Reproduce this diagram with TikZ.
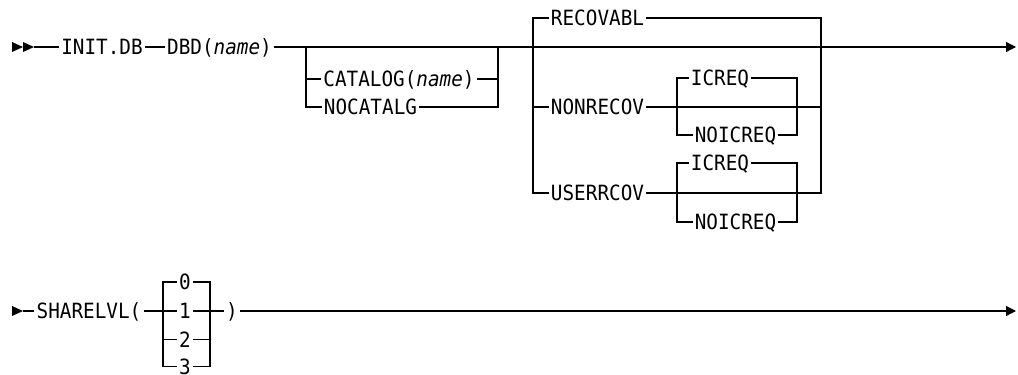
\documentclass[tikz,border=0pt]{standalone}
\usepackage{fontspec}
\newfontfamily\railfont[FakeStretch=0.92]{DejaVu Sans Mono}
\usetikzlibrary{arrows.meta,positioning}
\tikzset{keyword/.style={font={\railfont\fontsize{21}{21}\selectfont}, inner xsep=2pt, inner ysep=0pt, text height=15pt, text depth=0pt}}
\tikzset{rail/.style={line width=1.2pt}}
\tikzset{railarrow/.style={rail, -{Triangle[length=10pt,width=10pt]}}}

\begin{document}
\begin{tikzpicture}[x=1pt, y=-1pt]
  \useasboundingbox (0,0) rectangle (1018,375);

  % first line
  \fill (12,42) -- (23,47) -- (12,52) -- cycle;
  \fill (23,42) -- (34,47) -- (23,52) -- cycle;
  \coordinate (start-1) at (34,47);
  \coordinate (end-1) at (1016,47);

  \node[keyword] (init) at (102,47) {INIT.DB};
  \node[keyword] (dbd) at (219.5,47) {DBD(\textit{name})};

  \node[keyword] (catalog) at (399,79) {CATALOG(\textit{name})};
  \node[keyword] (nocatalg) at (370.5,107) {NOCATALG};

  \node[keyword] (recovabl) at (597.5,18) {RECOVABL};
  \node[keyword] (nonrecov) at (597.5,107) {NONRECOV};
  \node[keyword] (userrcov) at (597.5,193) {USERRCOV};

  \node[keyword] (icreq-1) at (720,78) {ICREQ};
  \node[keyword] (noicreq-1) at (735.5,135) {NOICREQ};
  \node[keyword] (icreq-2) at (720,163) {ICREQ};
  \node[keyword] (noicreq-2) at (735.5,222) {NOICREQ};

  \coordinate (fork-1) at (306,47);
  \coordinate (join-1) at (498,47);
  \coordinate (fork-2) at (533,47);
  \coordinate (join-2) at (821,47);
  \coordinate (fork-3) at (677,107);
  \coordinate (join-3) at (797,107);
  \coordinate (fork-4) at (677,193);
  \coordinate (join-4) at (797,193);

  \draw[rail] (start-1) -- (init);
  \draw[rail] (init) -- (dbd);
  \draw[railarrow] (dbd) -- (end-1);

  \draw[rail] (fork-1) |- (catalog);
  \draw[rail] (fork-1) |- (nocatalg);
  \draw[rail] (catalog) -| (join-1);
  \draw[rail] (nocatalg) -| (join-1);

  \draw[rail] (fork-2) |- (recovabl);
  \draw[rail] (fork-2) |- (nonrecov);
  \draw[rail] (fork-2) |- (userrcov);
  \draw[rail] (recovabl) -| (join-2);
  \draw[rail] (nonrecov) -| (join-2);
  \draw[rail] (userrcov) -| (join-2);

  \draw[rail] (fork-3) |- (icreq-1);
  \draw[rail] (fork-3) |- (noicreq-1);
  \draw[rail] (icreq-1) -| (join-3);
  \draw[rail] (noicreq-1) -| (join-3);

  \draw[rail] (fork-4) |- (icreq-2);
  \draw[rail] (fork-4) |- (noicreq-2);
  \draw[rail] (icreq-2) -| (join-4);
  \draw[rail] (noicreq-2) -| (join-4);

  % second line
  \fill (12,306) -- (23,311) -- (12,316) -- cycle;
  \coordinate (start-2) at (23,311);
  \coordinate (end-2) at (1016,311);

  \node[keyword] (sharelvl) at (89,311) {SHARELVL(};
  \node[keyword] (lvl-0) at (185,282) {0};
  \node[keyword] (lvl-1) at (185,311) {1};
  \node[keyword] (lvl-2) at (185,339.5) {2};
  \node[keyword] (lvl-3) at (185,366.5) {3};
  \node[keyword] (close) at (232,311) {)};

  \coordinate (fork-5) at (163,311);
  \coordinate (join-5) at (210,311);

  \draw[rail] (start-2) -- (sharelvl);
  \draw[rail] (sharelvl) -- (lvl-1);
  \draw[rail] (lvl-1) -- (close);
  \draw[railarrow] (close) -- (end-2);

  \draw[rail] (fork-5) |- (lvl-0);
  \draw[rail] (fork-5) |- (lvl-2);
  \draw[rail] (fork-5) |- (lvl-3);
  \draw[rail] (lvl-0) -| (join-5);
  \draw[rail] (lvl-2) -| (join-5);
  \draw[rail] (lvl-3) -| (join-5);
\end{tikzpicture}
\end{document}
